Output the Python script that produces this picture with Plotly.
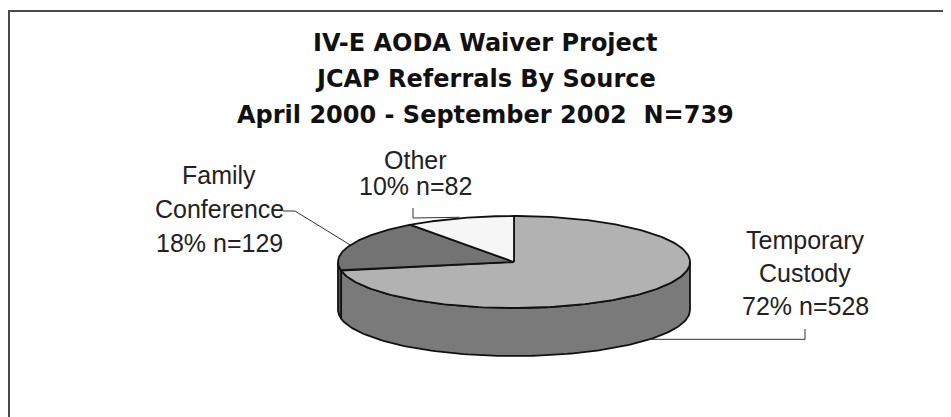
import numpy as np
import plotly.graph_objects as go

# ---------------- data ----------------
categories = ["Temporary Custody", "Family Conference", "Other"]
counts = [528, 129, 82]
percents = [72, 18, 10]
label_lines = [["Temporary", "Custody", "72% n=528"],
               ["Family", "Conference", "18% n=129"],
               ["Other", "10% n=82"]]
title_lines = ["IV-E AODA Waiver Project",
               "JCAP Referrals By Source",
               "April 2000 - September 2002  N=739"]

# ---------------- style / layout constants ----------------
W, H = 951, 417
OFF = 8                     # page body margin; axes are set so data units = screen pixels
CX, CY = 514, 262           # centre of the pie top
RA, RB = 176, 46            # ellipse semi-axes
DEPTH = 48                  # thickness of the pie
top_colors = ["#b2b2b2", "#737373", "#f6f6f6"]
side_colors = ["#7a7a7a", "#555555", "#bdbdbd"]
FONT = "Liberation Sans, Arial, sans-serif"
TFONT = "DejaVu Sans, Liberation Sans, Arial, sans-serif"

# label placement (centre x, first-line y, line spacing)
label_pos = [(805, 240, 33), (219, 175, 34), (415, 160, 26)]


def ell(theta_deg, dy=0.0):
    t = np.radians(theta_deg)
    return CX + RA * np.cos(t), CY - RB * np.sin(t) + dy


fig = go.Figure()

# slice angles (start at 12 o'clock, clockwise)
spans = []
start = 90.0
for p in percents:
    end = start - p * 3.6
    spans.append((end, start))
    start = end

# side faces (front half only: 180..360 deg)
for i, (lo, hi) in enumerate(spans):
    for k in range(-2, 2):
        a0, a1 = 180 + 360 * k, 360 + 360 * k
        s0, s1 = max(lo, a0), min(hi, a1)
        if s1 > s0:
            th = np.linspace(s0, s1, 120)
            xt, yt = ell(th)
            xb, yb = ell(th[::-1], DEPTH)
            fig.add_trace(go.Scatter(
                x=np.concatenate([xt, xb, xt[:1]]),
                y=np.concatenate([yt, yb, yt[:1]]),
                mode="lines", fill="toself", fillcolor=side_colors[i],
                line=dict(color="#111111", width=1.8),
                hoverinfo="skip", showlegend=False))

# top faces
for i, (lo, hi) in enumerate(spans):
    th = np.linspace(hi, lo, 200)
    xa, ya = ell(th)
    fig.add_trace(go.Scatter(
        x=np.concatenate([[CX], xa, [CX]]),
        y=np.concatenate([[CY], ya, [CY]]),
        mode="lines", fill="toself", fillcolor=top_colors[i],
        line=dict(color="#111111", width=1.8),
        name=categories[i], hoverinfo="name", showlegend=False))

# leader lines, ending at each slice's mid-angle
mids = [(lo + hi) / 2 for lo, hi in spans]
LEAD = dict(color="#333333", width=1)
# Temporary Custody: to the bottom edge of the side
mx, my = ell(mids[0], DEPTH)
lx, ly, sp = label_pos[0]
fig.add_trace(go.Scatter(x=[lx, lx, mx], y=[ly + 2 * sp + 23, my, my], mode="lines",
                         line=LEAD, hoverinfo="skip", showlegend=False))
# Family Conference: from the end of "Conference"
mx, my = ell(mids[1])
lx, ly, sp = label_pos[1]
fig.add_trace(go.Scatter(x=[lx + 64, lx + 76, mx], y=[ly + sp + 2, ly + sp + 2, my],
                         mode="lines", line=LEAD, hoverinfo="skip", showlegend=False))
# Other
mx, my = ell(mids[2])
lx, ly, sp = label_pos[2]
fig.add_trace(go.Scatter(x=[lx - 2, lx - 2, mx], y=[ly + sp + 22, ly + sp + 32, my - 1],
                         mode="lines", line=LEAD, hoverinfo="skip", showlegend=False))

annotations = []
for (lx, ly, sp), lines in zip(label_pos, label_lines):
    for j, t in enumerate(lines):
        annotations.append(dict(x=lx, y=ly + j * sp, text=t, showarrow=False,
                                xref="x", yref="y", xanchor="center", yanchor="middle",
                                font=dict(family=FONT, size=25, color="#222222")))

for j, t in enumerate(title_lines):
    annotations.append(dict(x=485, y=43 + j * 36, text="<b>" + t + "</b>", showarrow=False,
                            xref="x", yref="y", xanchor="center", yanchor="middle",
                            font=dict(family=TFONT, size=24, color="#111111")))

fig.update_layout(
    width=W, height=H,
    margin=dict(l=0, r=0, t=0, b=0),
    paper_bgcolor="white", plot_bgcolor="white",
    xaxis=dict(range=[OFF, W + OFF], visible=False, fixedrange=True),
    yaxis=dict(range=[H + OFF, OFF], visible=False, fixedrange=True),
    annotations=annotations,
    shapes=[dict(type="path", path=f"M 9 {H + OFF} L 9 11 L {W + OFF} 11",
                 xref="x", yref="y", line=dict(color="#4a4a4a", width=2))],
)

fig.write_html("out.html")
